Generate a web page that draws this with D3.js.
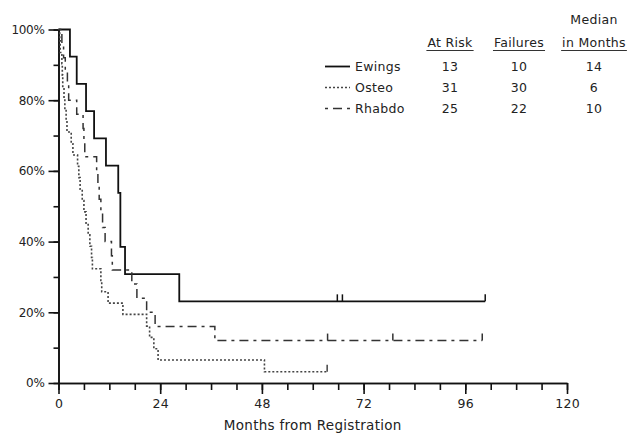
<!DOCTYPE html>
<html lang="en">
<head>
<meta charset="utf-8">
<title>Survival by histology</title>
<style>
  html, body { margin: 0; padding: 0; background: #fff; }
  text { font-family: "DejaVu Sans", sans-serif; fill: #222; letter-spacing: 0.3px; }
  .axis path, .axis line { stroke: #111; stroke-width: 1.6px; }
  .axis text { font-family: "DejaVu Sans", sans-serif; font-size: 12px; fill: #222; }
</style>
</head>
<body>
<div id="chart"></div>
<script src="https://cdn.jsdelivr.net/npm/d3@7"></script>
<script>
// groups and summary table
var groups = ["Ewings", "Osteo", "Rhabdo"];
var atRisk = [13, 31, 25];
var failures = [10, 30, 22];
var medians = [14, 6, 10];

// step times (months) and survival after each step (%)
var ewingsTimes = [2.7, 4.3, 6.5, 8.4, 11.2, 14.1, 14.6, 15.7, 28.5];
var ewingsSurv  = [92.3, 84.6, 76.9, 69.2, 61.5, 53.8, 38.5, 30.8, 23.1];
var ewingsCensor = [65.8, 67.0, 100.7];

var osteoTimes = [0.3, 0.4, 0.8, 0.9, 1.0, 1.3, 1.5, 1.8, 2.0, 3.0, 3.4, 4.5, 4.8, 5.1, 5.6,
                  6.0, 6.5, 7.0, 7.4, 7.8, 8.0, 10.0, 10.2, 11.7, 15.2, 20.8, 21.5, 22.5, 23.5, 48.6];
var osteoSurv  = [96.8, 93.5, 90.3, 87.1, 83.9, 80.6, 77.4, 74.2, 71.0, 67.7, 64.5, 61.3, 58.1, 54.8, 51.6,
                  48.4, 45.2, 41.9, 38.7, 35.5, 32.3, 29.0, 25.8, 22.6, 19.4, 16.1, 12.9, 9.7, 6.5, 3.2];
var osteoCensor = [63.4];

var rhabdoTimes = [0.8, 1.2, 1.6, 2.1, 2.4, 4.3, 5.8, 6.0, 6.2, 9.0, 9.3, 9.6, 10.0, 10.4, 11.0,
                   12.5, 12.7, 17.3, 18.5, 20.8, 22.8, 36.9];
var rhabdoSurv  = [96, 92, 88, 84, 80, 76, 72, 68, 64, 60, 56, 52, 48, 44, 40,
                   36, 32, 28, 24, 20, 16, 12];
var rhabdoCensor = [63.5, 78.9, 100.0];

var xTicks = [0, 24, 48, 72, 96, 120];
var yTicks = [0, 20, 40, 60, 80, 100];

var width = 630, height = 438;

var svg = d3.select("#chart").append("svg")
  .attr("width", width)
  .attr("height", height);

var x = d3.scaleLinear().domain([0, 120]).range([58.5, 567]);
var y = d3.scaleLinear().domain([0, 100]).range([383, 29.5]);

// axes: minor ticks first, then major with labels
svg.append("g").attr("class", "axis")
  .attr("transform", "translate(0," + y(0) + ")")
  .call(d3.axisBottom(x).tickValues(d3.range(0, 121, 6)).tickSize(7).tickSizeOuter(0).tickFormat(""));
svg.append("g").attr("class", "axis")
  .attr("transform", "translate(0," + y(0) + ")")
  .call(d3.axisBottom(x).tickValues(xTicks).tickSize(11).tickSizeOuter(0).tickPadding(5))
  .selectAll("text").style("font-size", "12.5px");

svg.append("g").attr("class", "axis")
  .attr("transform", "translate(" + x(0) + ",0)")
  .call(d3.axisLeft(y).tickValues(d3.range(0, 101, 10)).tickSize(5).tickSizeOuter(0).tickFormat(""));
svg.append("g").attr("class", "axis")
  .attr("transform", "translate(" + x(0) + ",0)")
  .call(d3.axisLeft(y).tickValues(yTicks).tickSize(10).tickSizeOuter(0).tickPadding(4)
    .tickFormat(function (d) { return d + "%"; }))
  .selectAll("text").style("letter-spacing", "-0.3px");

svg.append("text")
  .attr("x", (x(0) + x(120)) / 2)
  .attr("y", 430)
  .attr("text-anchor", "middle")
  .style("font-size", "13.5px")
  .text("Months from Registration");

// curves
var styles = [
  { dash: null, color: "#111", w: 1.8 },
  { dash: "2,2", color: "#444", w: 1.6 },
  { dash: "3,5,9,5", color: "#333", w: 1.5 }
];
var series = [
  { times: ewingsTimes, surv: ewingsSurv, censor: ewingsCensor },
  { times: osteoTimes, surv: osteoSurv, censor: osteoCensor },
  { times: rhabdoTimes, surv: rhabdoSurv, censor: rhabdoCensor }
];

function survAt(s, t) {
  var v = 100;
  for (var i = 0; i < s.times.length; i++) if (s.times[i] <= t) v = s.surv[i];
  return v;
}

var line = d3.line()
  .x(function (d) { return x(d[0]); })
  .y(function (d) { return y(d[1]); })
  .curve(d3.curveStepAfter);

series.forEach(function (s, i) {
  var pts = [[0, 100]];
  s.times.forEach(function (t, j) { pts.push([t, s.surv[j]]); });
  var end = d3.max(s.censor);
  pts.push([end, survAt(s, end)]);
  svg.append("path")
    .datum(pts)
    .attr("d", line)
    .attr("fill", "none")
    .attr("stroke", styles[i].color)
    .attr("stroke-width", styles[i].w)
    .attr("stroke-dasharray", styles[i].dash);
  svg.selectAll(".censor" + i)
    .data(s.censor)
    .enter().append("line")
    .attr("class", "censor" + i)
    .attr("x1", function (d) { return x(d); })
    .attr("x2", function (d) { return x(d); })
    .attr("y1", function (d) { return y(survAt(s, d)); })
    .attr("y2", function (d) { return y(survAt(s, d)) - 7; })
    .attr("stroke", styles[i].color)
    .attr("stroke-width", 1.5);
});

// legend table
var colX = [450, 519, 594];
var rowY = [71, 92, 113];
var heads = ["At Risk", "Failures", "in Months"];

svg.append("text").attr("x", colX[2]).attr("y", 24)
  .attr("text-anchor", "middle").style("font-size", "12.5px").text("Median");

heads.forEach(function (h, i) {
  var t = svg.append("text").attr("x", colX[i]).attr("y", 47)
    .attr("text-anchor", "middle").style("font-size", "12.5px").text(h);
  var w = t.node().getComputedTextLength();
  svg.append("line")
    .attr("x1", colX[i] - w / 2 - 1).attr("x2", colX[i] + w / 2 + 1)
    .attr("y1", 50.5).attr("y2", 50.5)
    .attr("stroke", "#333").attr("stroke-width", 1.2);
});

groups.forEach(function (g, i) {
  svg.append("line")
    .attr("x1", 325).attr("x2", 350)
    .attr("y1", rowY[i] - 4.5).attr("y2", rowY[i] - 4.5)
    .attr("stroke", styles[i].color)
    .attr("stroke-width", styles[i].w)
    .attr("stroke-dasharray", styles[i].dash);
  svg.append("text").attr("x", 355).attr("y", rowY[i])
    .style("font-size", "12.5px").text(g);
  [atRisk[i], failures[i], medians[i]].forEach(function (v, j) {
    svg.append("text").attr("x", colX[j]).attr("y", rowY[i])
      .attr("text-anchor", "middle").style("font-size", "12.5px").text(v);
  });
});
</script>
</body>
</html>
